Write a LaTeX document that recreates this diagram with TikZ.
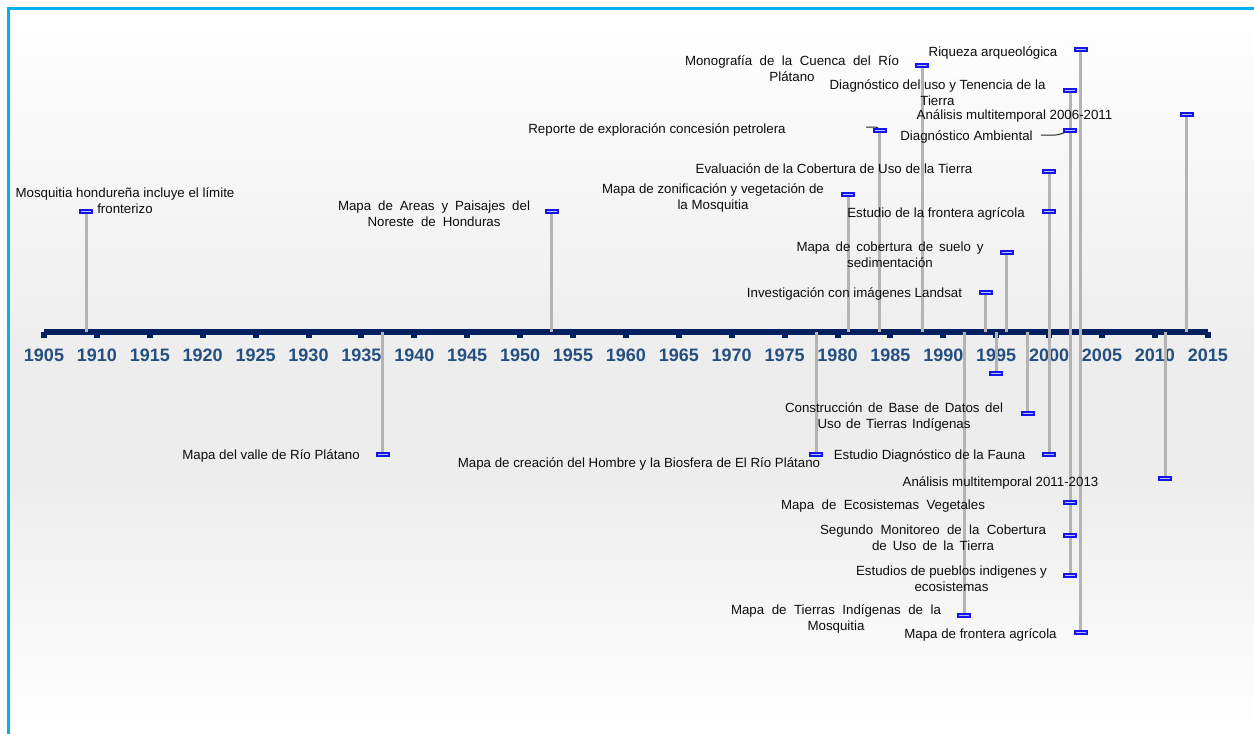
\documentclass[tikz,border=0pt]{standalone}
\usepackage{fontspec}
\setmainfont{Liberation Sans}
\definecolor{framecyan}{RGB}{0,176,240}
\definecolor{axisnavy}{RGB}{0,32,96}
\definecolor{yearblue}{RGB}{36,79,128}
\definecolor{stemgray}{RGB}{180,180,180}
\definecolor{flagblue}{RGB}{20,20,240}
\definecolor{flaglight}{RGB}{190,190,255}
\definecolor{bgmid}{RGB}{237,237,237}
\tikzset{
  evt/.style={font=\fontsize{13.3}{16}\selectfont, align=center, inner sep=0pt, text=black!95,
    yshift=-2pt},
  yearlbl/.style={font=\bfseries\fontsize{18}{20}\selectfont, text=yearblue, inner sep=0pt},
  stem/.style={draw=stemgray, line width=3pt},
  flagbox/.style={rectangle, fill=flagblue, minimum width=14pt, minimum height=5pt, inner sep=0pt,
    path picture={\draw[flaglight, line width=0.9pt]
      ([xshift=2pt]path picture bounding box.west) -- ([xshift=-2pt]path picture bounding box.east);}},
  leader/.style={draw=black!85, line width=1pt},
}
\begin{document}
\begin{tikzpicture}[x=1pt,y=-1pt]
\useasboundingbox (0,0) rectangle (1254,734);
% background
\fill[white] (0,0) rectangle (1254,734);
\shade[top color=white, bottom color=bgmid] (8.5,8.5) rectangle (1254,360);
\fill[bgmid] (8.5,360) rectangle (1254,480);
\shade[top color=bgmid, bottom color=white] (8.5,480) rectangle (1254,734);
\draw[framecyan, line width=3pt] (8.5,734) -- (8.5,8.5) -- (1254,8.5);

% time axis
\coordinate (axis) at (0,332);
\fill[axisnavy] (44,328.5) rectangle (1208,334.5);
\foreach \yr in {1905,1910,...,2015} {
  \pgfmathsetmacro\xx{44+(\yr-1905)*10.58}
  \fill[axisnavy] (\xx-3,332) rectangle (\xx+3,338);
  \node[yearlbl] (y\yr) at (\xx,355) {\yr};
}

% event positions: id / year / height of the flag
\foreach \id/\yr/\yy in {
  a1/1909/211, a2/1953/211, a3/1981/194, a4/1984/130, a5/1988/65,
  a6/1994/292, a7/1996/252, a8/2000/171, a9/2000/211, a10/2002/90,
  a11/2002/130, a12/2003/49, a13/2013/114,
  b1/1937/454, b2/1978/454, b3/1992/615, b4/1995/373, b5/1998/413,
  b6/2000/454, b7/2002/502, b8/2002/535, b9/2002/575, b10/2003/632,
  b11/2011/478} {
  \pgfmathsetmacro\xx{44+(\yr-1905)*10.58}
  \coordinate (p\id) at (\xx,\yy);
}

% stems
\foreach \id in {a1,a2,a3,a4,a5,a6,a7,a8,a9,a10,a11,a12,a13,
                 b1,b2,b3,b4,b5,b6,b7,b8,b9,b10,b11}
  \draw[stem] (p\id) -- (p\id |- axis);

% leader lines
\coordinate (la4) at (866,127);
\draw[leader] (la4) -- (873,127) .. controls (877,127) .. (pa4);
\coordinate (la11) at (1041,135);
\draw[leader] (la11) .. controls (1058,135.5) .. (pa11);

% flags
\foreach \id in {a1,a2,a3,a4,a5,a6,a7,a8,a9,a10,a11,a12,a13,
                 b1,b2,b3,b4,b5,b6,b7,b8,b9,b10,b11}
  \node[flagbox] (m\id) at (p\id) {};

% labels above the axis
\node[evt] (ta1) at (125,199) {Mosquitia hondureña incluye el límite\\fronterizo};
\node[evt] (ta2) at (434,212) {\makebox[192pt][s]{Mapa de Areas y Paisajes del}\\\makebox[133pt][s]{Noreste de Honduras}};
\node[evt] (ta3) at (713,195.5) {Mapa de zonificación y vegetación de\\la Mosquitia};
\node[evt] (ta4) at (657,128) {Reporte de exploración concesión petrolera};
\node[evt] (ta5) at (792,66.5) {\makebox[214pt][s]{Monografía de la Cuenca del Río}\\Plátano};
\node[evt] (ta6) at (854.5,292) {Investigación con imágenes Landsat};
\node[evt] (ta7) at (890,252.5) {\makebox[187pt][s]{Mapa de cobertura de suelo y}\\sedimentación};
\node[evt] (ta8) at (834,167) {Evaluación de la Cobertura de Uso de la Tierra};
\node[evt] (ta9) at (936,212) {Estudio de la frontera agrícola};
\node[evt] (ta10) at (937.5,91) {Diagnóstico del uso y Tenencia de la\\Tierra};
\node[evt] (ta11) at (966.5,135) {Diagnóstico Ambiental};
\node[evt] (ta12) at (993,51) {Riqueza arqueológica};
\node[evt] (ta13) at (1014.5,114) {Análisis multitemporal 2006-2011};

% labels below the axis
\node[evt] (tb1) at (271,454) {Mapa del valle de Río Plátano};
\node[evt] (tb2) at (639,462) {Mapa de creación del Hombre y la Biosfera de El Río Plátano};
\node[evt] (tb3) at (836,616.5) {\makebox[210pt][s]{Mapa de Tierras Indígenas de la}\\Mosquitia};
\node[evt] (tb5) at (894,414.5) {\makebox[218pt][s]{Construcción de Base de Datos del}\\\makebox[153pt][s]{Uso de Tierras Indígenas}};
\node[evt] (tb6) at (929.5,454) {Estudio Diagnóstico de la Fauna};
\node[evt] (tb7) at (883,504) {\makebox[204pt][s]{Mapa de Ecosistemas Vegetales}};
\node[evt] (tb8) at (933,535.5) {\makebox[226pt][s]{Segundo Monitoreo de la Cobertura}\\\makebox[122pt][s]{de Uso de la Tierra}};
\node[evt] (tb9) at (951.5,576.5) {Estudios de pueblos indigenes y\\ecosistemas};
\node[evt] (tb10) at (980.5,633) {Mapa de frontera agrícola};
\node[evt] (tb11) at (1000.5,481) {Análisis multitemporal 2011-2013};
\end{tikzpicture}
\end{document}
